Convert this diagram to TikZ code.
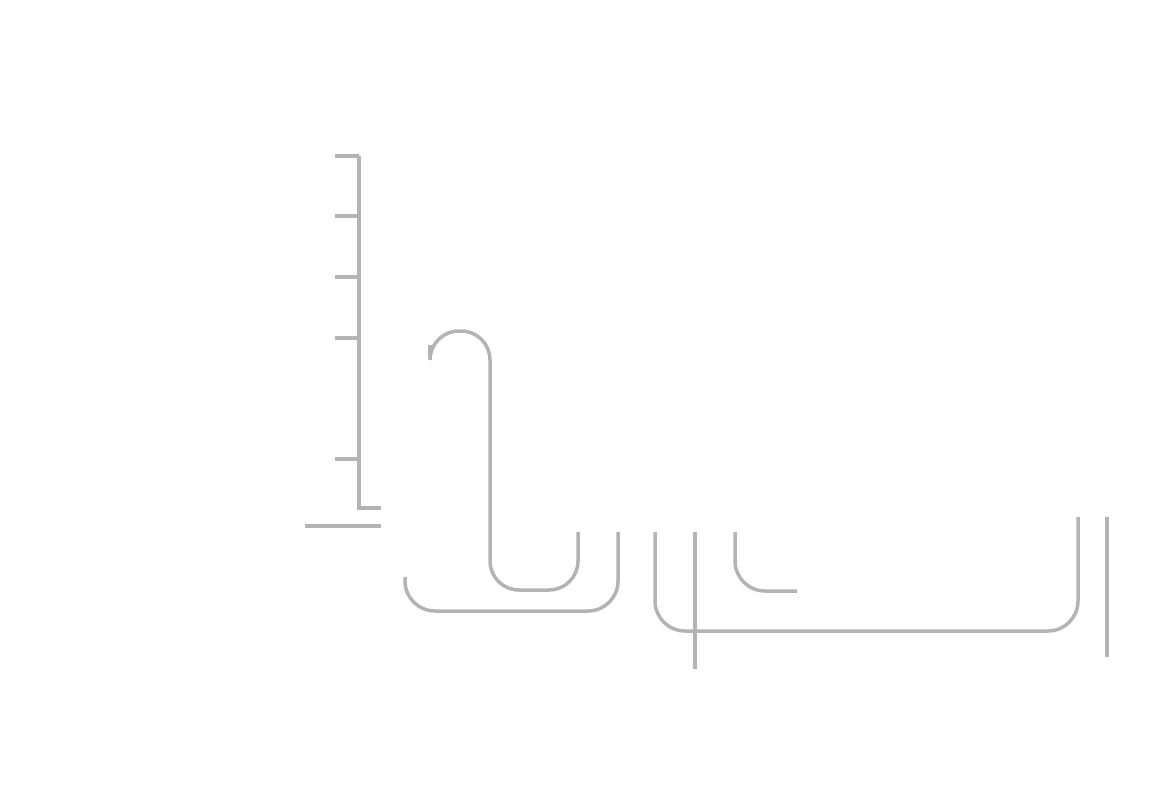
\documentclass[tikz,border=0pt]{standalone}
\usepackage{tikz}
\definecolor{strokegray}{HTML}{B3B3B3}
\begin{document}
\begin{tikzpicture}[x=1pt,y=-1pt,line width=3.5pt]
\tikzset{stroke/.style={draw=strokegray}}
\useasboundingbox (0,0) rectangle (1156,808);
% axis with ticks
\draw[stroke] (359,156) -- (359,508) -- (381,508);
\foreach \ty in {156,216,277,338,459}
  \draw[stroke] (335,\ty) -- (359,\ty);
\draw[stroke] (305,526) -- (381,526);
% hook
\draw[stroke,rounded corners=29pt] (430,358) -- (430,331) -- (490,331) -- (490,590) -- (578,590) -- (578,532);
\draw[stroke] (430,358) -- (430,345);
% bowl
\draw[stroke,rounded corners=30pt] (405,577) -- (405,611) -- (618,611) -- (618,532);
% long tray
\draw[stroke,rounded corners=30pt] (655,532) -- (655,631) -- (1078,631) -- (1078,517);
\draw[stroke] (695,532) -- (695,669);
\draw[stroke,rounded corners=30pt] (735,532) -- (735,591) -- (797,591);
\draw[stroke] (1107,517) -- (1107,657);
\end{tikzpicture}
\end{document}
